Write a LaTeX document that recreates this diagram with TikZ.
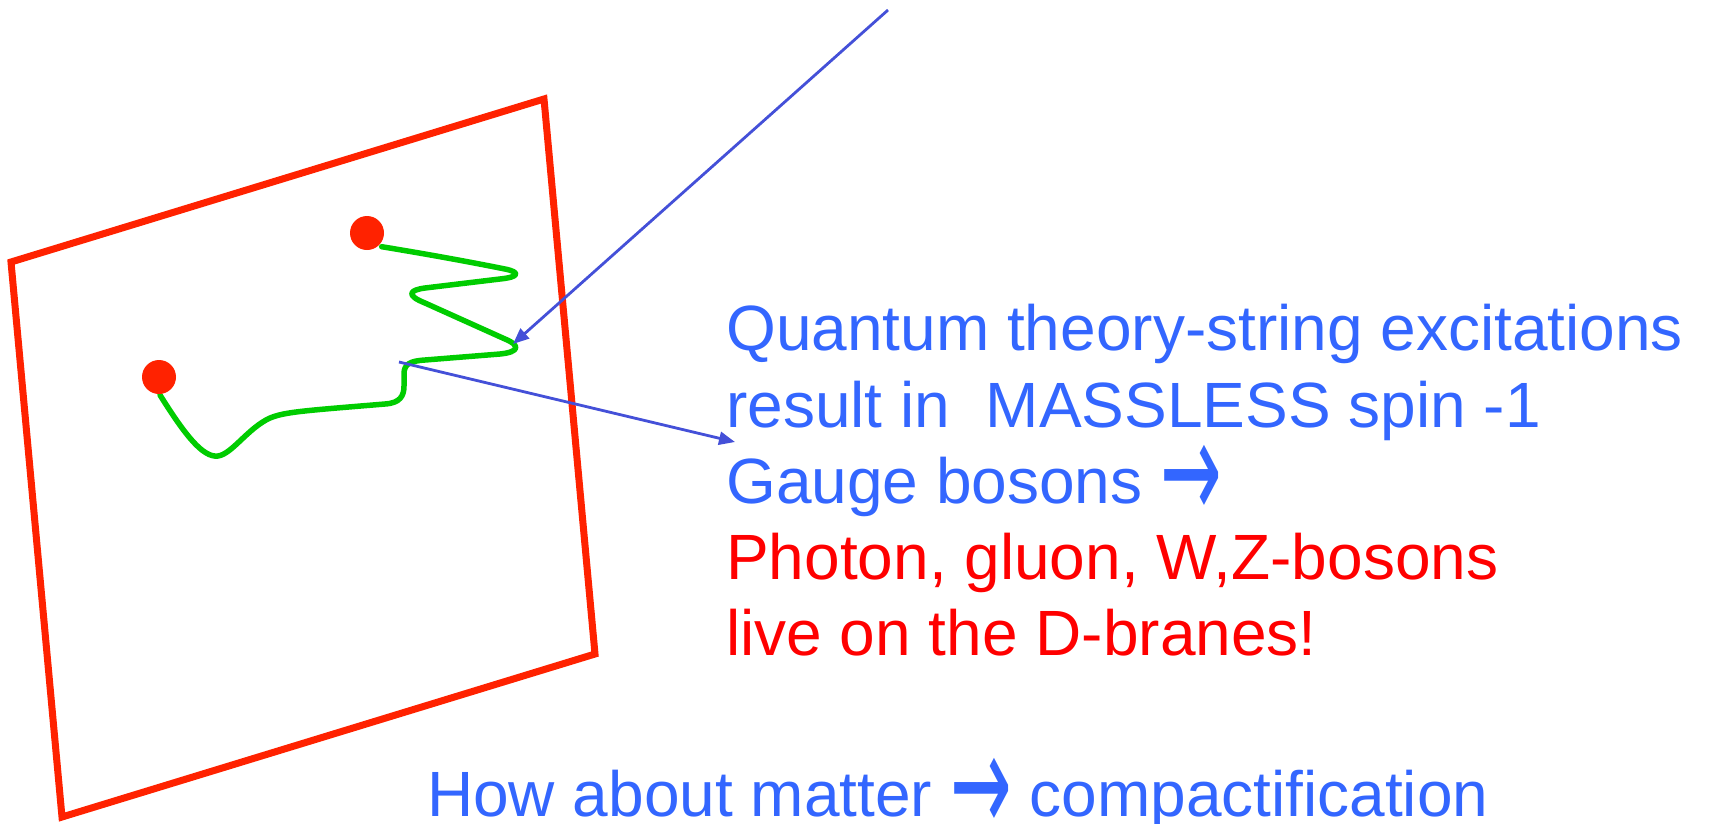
\documentclass[tikz,border=0pt]{standalone}
\usepackage{fontspec}
\setmainfont{Liberation Sans}
\newfontfamily\arrowfont{DejaVu Sans}
\usetikzlibrary{arrows.meta}
\definecolor{framered}{RGB}{255,34,0}
\definecolor{stringgreen}{RGB}{0,204,0}
\definecolor{arrowblue}{RGB}{68,80,216}
\definecolor{textblue}{RGB}{51,102,255}
\definecolor{textred}{RGB}{255,0,0}
\newcommand{\bigarrow}{{\arrowfont\raisebox{-16pt}{\scalebox{1.15}[2.2]{→}}}}
\tikzset{
  brane/.style={draw=framered, line width=7pt, line join=miter},
  endpoint/.style={circle, fill=framered, minimum size=34pt, inner sep=0pt},
  openstring/.style={draw=stringgreen, line width=5.5pt, line cap=round, line join=round},
  pointer/.style={draw=arrowblue, line width=2.8pt, -{Triangle[length=16pt,width=13pt]}},
  txt/.style={anchor=base west, inner sep=0pt, font=\fontsize{64}{76}\selectfont},
}
\begin{document}
\begin{tikzpicture}[x=1pt,y=-1pt]
\useasboundingbox (0,0) rectangle (1711,823);
% brane
\draw[brane] (11,262) -- (544,99) -- (595,654) -- (62,817) -- cycle;
% open string
\draw[openstring] (160,395) .. controls (185,435) and (203,458) .. (218,456)
  .. controls (232,454) and (248,428) .. (270,418)
  .. controls (285,412) and (300,411) .. (385,404)
  .. controls (400,403) and (404,396) .. (404,386)
  -- (404,374)
  .. controls (404,364) and (410,361) .. (425,360)
  -- (500,354)
  .. controls (520,352) and (520,345) .. (505,339)
  -- (425,303)
  .. controls (405,295) and (410,290) .. (425,288)
  -- (500,279)
  .. controls (520,277) and (520,272) .. (505,269)
  .. controls (460,260) and (420,253) .. (381.7,246.7);
% string endpoints
\node[endpoint] (d1) at (367,233) {};
\node[endpoint] (d2) at (159,377) {};
% arrow anchors
\coordinate (a1s) at (888,10);
\coordinate (a1e) at (513,344);
\coordinate (a2s) at (399,362);
\coordinate (a2e) at (735,442);
\draw[pointer] (a1s) -- (a1e);
\draw[pointer] (a2s) -- (a2e);
% text
\node[txt, text=textblue] (l1) at (726,350) {Quantum theory-string excitations};
\node[txt, text=textblue] (l2) at (726,427) {result in\ \ MASSLESS spin -1};
\node[txt, text=textblue] (l3) at (726,503) {Gauge bosons \bigarrow};
\node[txt, text=textred] (l4) at (726,579) {Photon, gluon, W,Z-bosons};
\node[txt, text=textred] (l5) at (726,655) {live on the D-branes!};
\node[txt, text=textblue] (l6) at (427,816) {How about matter \bigarrow\ compactification};
\end{tikzpicture}
\end{document}
